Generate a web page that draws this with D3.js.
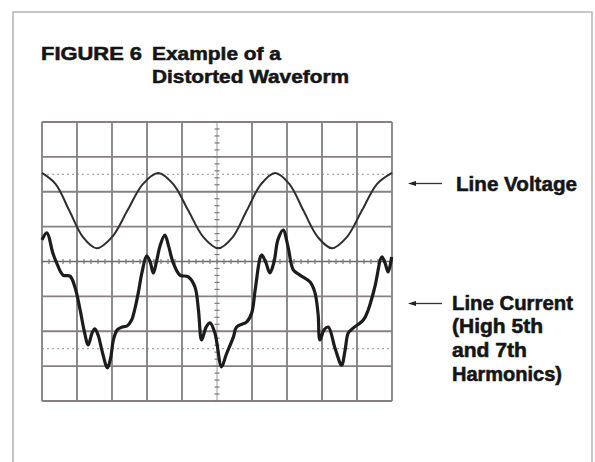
<!DOCTYPE html>
<html>
<head>
<meta charset="utf-8">
<script src="https://cdn.jsdelivr.net/npm/d3@7"></script>
<style>
  body { margin: 0; background: #fff; }
  text { font-family: "Liberation Sans", Arial, sans-serif; font-weight: bold; fill: #151515;
         stroke: #151515; stroke-width: 0.55px; }
</style>
</head>
<body>
<div id="figure"></div>
<script>
// screen graticule, in divisions
var xDivs = d3.range(0, 11);
var yDivs = d3.range(-4, 5);
var dottedLevels = [2.5, -2.5];

// line voltage trace (divisions)
var voltageX = [0, 0.39, 0.78, 1.17, 1.56, 2.0, 2.44, 2.88, 3.32, 3.75, 4.18, 4.61, 5.04,
  5.45, 5.85, 6.26, 6.66, 7.07, 7.47, 7.88, 8.28, 8.71, 9.14, 9.57, 10];
var voltageY = [2.54, 2.22, 1.46, 0.70, 0.38, 0.70, 1.46, 2.22, 2.54, 2.22, 1.46, 0.70, 0.38,
  0.70, 1.46, 2.22, 2.54, 2.22, 1.46, 0.70, 0.38, 0.70, 1.46, 2.22, 2.54];

// line current trace (divisions)
var currentX = [0.00, 0.14, 0.31, 0.43, 0.60, 0.80, 0.94, 1.09, 1.20, 1.32, 1.43, 1.51, 1.61, 1.71,
  1.87, 1.96, 2.04, 2.15, 2.29, 2.43, 2.56, 2.66, 2.75, 2.86, 2.99, 3.09, 3.18, 3.27, 3.37, 3.51,
  3.61, 3.75, 3.94, 4.18, 4.37, 4.47, 4.56, 4.69, 4.80, 4.94, 5.13, 5.26, 5.47, 5.56, 5.85, 5.99,
  6.09, 6.23, 6.28, 6.40, 6.51, 6.63, 6.74, 6.89, 7.03, 7.18, 7.37, 7.66, 7.80, 7.89, 7.94, 8.06,
  8.18, 8.37, 8.56, 8.66, 8.75, 8.89, 9.18, 9.32, 9.51, 9.71, 9.80, 9.89, 9.99];
var currentY = [0.62, 0.82, 0.24, -0.07, -0.39, -0.42, -0.73, -1.39, -1.96, -2.39, -2.05, -1.93, -2.13, -2.54,
  -3.05, -2.77, -2.25, -1.96, -1.88, -1.85, -1.68, -1.33, -0.90, -0.30, 0.16, -0.01, -0.33, -0.01, 0.44, 0.76,
  0.47, -0.04, -0.39, -0.44, -0.73, -1.39, -2.25, -1.88, -1.76, -2.05, -3.02, -2.68, -2.16, -1.88, -1.73, -1.48,
  -0.82, 0.10, 0.19, -0.04, -0.33, -0.01, 0.62, 0.90, 0.42, -0.24, -0.39, -0.59, -0.90, -1.53, -2.25, -1.96,
  -1.88, -2.48, -2.97, -2.54, -2.05, -1.91, -1.68, -1.39, -0.73, 0.13, -0.04, -0.30, 0.13];

// texts
var figureLabel = "FIGURE 6";
var titleLines = ["Example of a", "Distorted Waveform"];
var voltageLabel = ["Line Voltage"];
var currentLabel = ["Line Current", "(High 5th", "and 7th", "Harmonics)"];

var width = 595, height = 462;

var svg = d3.select("#figure")
  .append("svg")
  .attr("width", width)
  .attr("height", height);

// page frame (runs off the bottom)
svg.append("rect")
  .attr("x", 13).attr("y", 12)
  .attr("width", 579).attr("height", 470)
  .attr("fill", "none")
  .attr("stroke", "#b9b9b9")
  .attr("stroke-width", 1.6);

// scales: screen divisions -> pixels
var x = d3.scaleLinear().domain([0, 10]).range([42, 392]);
var y = d3.scaleLinear().domain([-4, 4]).range([401, 122]);

var grid = svg.append("g");

// dotted reference levels
grid.selectAll(".dot-level")
  .data(dottedLevels)
  .enter()
  .append("line")
  .attr("x1", x(0)).attr("x2", x(10))
  .attr("y1", function (d) { return y(d); })
  .attr("y2", function (d) { return y(d); })
  .attr("stroke", "#a9a9a9")
  .attr("stroke-width", 1.2)
  .attr("stroke-dasharray", "2,3");

// graticule lines
grid.selectAll(".vline")
  .data(xDivs.filter(function (d) { return d !== 5; }))
  .enter()
  .append("line")
  .attr("x1", function (d) { return x(d); })
  .attr("x2", function (d) { return x(d); })
  .attr("y1", y(-4)).attr("y2", y(4))
  .attr("stroke", "#808080")
  .attr("stroke-width", 1.8);

grid.selectAll(".hline")
  .data(yDivs.filter(function (d) { return d !== 0; }))
  .enter()
  .append("line")
  .attr("x1", x(0)).attr("x2", x(10))
  .attr("y1", function (d) { return y(d); })
  .attr("y2", function (d) { return y(d); })
  .attr("stroke", "#887f80")
  .attr("stroke-width", 1.8);

// centre axes with minor ticks (5 per division)
grid.append("line")
  .attr("x1", x(5)).attr("x2", x(5))
  .attr("y1", y(-4)).attr("y2", y(4))
  .attr("stroke", "#9a9a9a").attr("stroke-width", 1);
grid.append("line")
  .attr("x1", x(0)).attr("x2", x(10))
  .attr("y1", y(0)).attr("y2", y(0))
  .attr("stroke", "#6f6768").attr("stroke-width", 1.6);

var minor = d3.range(-20, 21).map(function (d) { return d / 5; });
grid.selectAll(".ytick")
  .data(minor)
  .enter()
  .append("line")
  .attr("x1", x(5) - 2.5).attr("x2", x(5) + 2.5)
  .attr("y1", function (d) { return y(d); })
  .attr("y2", function (d) { return y(d); })
  .attr("stroke", "#7a7a7a").attr("stroke-width", 1.2);

grid.selectAll(".xtick")
  .data(d3.range(0, 51).map(function (d) { return d / 5; }))
  .enter()
  .append("line")
  .attr("x1", function (d) { return x(d); })
  .attr("x2", function (d) { return x(d); })
  .attr("y1", y(0) - 2.5).attr("y2", y(0) + 2.5)
  .attr("stroke", "#7a7a7a").attr("stroke-width", 1.2);

// traces
var trace = d3.line()
  .x(function (d) { return x(d[0]); })
  .y(function (d) { return y(d[1]); })
  .curve(d3.curveCatmullRom.alpha(0.5));

var voltage = voltageX.map(function (d, i) { return [d, voltageY[i]]; });
var current = currentX.map(function (d, i) { return [d, currentY[i]]; });

svg.append("path")
  .datum(voltage)
  .attr("d", trace)
  .attr("fill", "none")
  .attr("stroke", "#2e2e2e")
  .attr("stroke-width", 2);

svg.append("path")
  .datum(current)
  .attr("d", trace)
  .attr("fill", "none")
  .attr("stroke", "#1c1c1c")
  .attr("stroke-width", 3.2)
  .attr("stroke-linejoin", "round");

// title
function fitText(sel, w) {
  sel.attr("textLength", w).attr("lengthAdjust", "spacingAndGlyphs");
}

svg.append("text")
  .attr("x", 41).attr("y", 60)
  .attr("font-size", 19)
  .text(figureLabel)
  .call(fitText, 101);

var titleWidths = [129, 197];
svg.selectAll(".title")
  .data(titleLines)
  .enter()
  .append("text")
  .attr("x", 152)
  .attr("y", function (d, i) { return 60 + i * 23; })
  .attr("font-size", 19)
  .text(function (d) { return d; })
  .each(function (d, i) { d3.select(this).call(fitText, titleWidths[i]); });

// labels with arrows
function arrow(yy) {
  svg.append("line")
    .attr("x1", 414).attr("x2", 442)
    .attr("y1", yy).attr("y2", yy)
    .attr("stroke", "#333").attr("stroke-width", 1.3);
  svg.append("path")
    .attr("d", "M408," + yy + "L416," + (yy - 2.5) + "L416," + (yy + 2.5) + "Z")
    .attr("fill", "#222");
}
arrow(183.5);
arrow(303.5);

svg.append("text")
  .attr("x", 456).attr("y", 190.5)
  .attr("font-size", 20)
  .text(voltageLabel[0])
  .call(fitText, 121);

var currentWidths = [121, 91, 75, 110];
svg.selectAll(".current-label")
  .data(currentLabel)
  .enter()
  .append("text")
  .attr("x", 452)
  .attr("y", function (d, i) { return 309.5 + i * 23.7; })
  .attr("font-size", 20)
  .text(function (d) { return d; })
  .each(function (d, i) { d3.select(this).call(fitText, currentWidths[i]); });
</script>
</body>
</html>
